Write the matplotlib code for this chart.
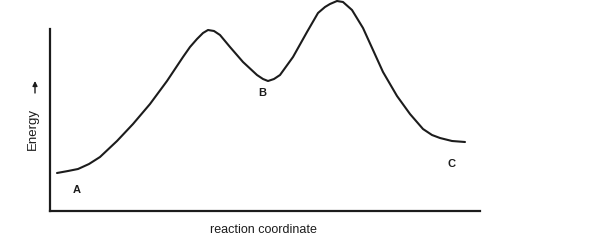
"""
Energy profile along the reaction coordinate (A -> B -> C)
"""

import matplotlib.pyplot as plt

# ============ style ============
plt.rcParams.update({
    'font.family': ['Liberation Sans', 'DejaVu Sans'],
    'axes.linewidth': 1.6,
})
ink = '#1c1c1c'

# ============ data ============
# reaction coordinate (arbitrary units) and energy (arbitrary units)
coord = [7, 18, 28, 39, 50, 67, 83, 100, 117, 133, 140, 147, 153, 158, 164,
         170, 180, 193, 207, 213, 218, 224, 230, 243, 257, 268, 275, 280,
         287, 293, 302, 313, 323, 333, 347, 360, 373, 382, 390, 402, 415]
energy = [38, 40, 42, 47, 54, 70, 87, 107, 130, 154, 164, 172, 178, 181, 180,
          176, 164, 149, 136, 132, 130, 132, 136, 154, 179, 198, 204, 207,
          210, 209, 201, 183, 161, 139, 115, 97, 82, 76, 73, 70, 69]

# state labels and where they sit
states = ['A', 'B', 'C']
state_x = [27, 212, 401]
state_y = [21, 118, 47]

x_max, y_max = 430, 211
y_axis_top = 182

fig = plt.figure(figsize=(5.93, 2.46), dpi=100)
ax = fig.add_axes([50 / 593, 35 / 246, 430 / 593, 211 / 246])

ax.plot(coord, energy, '-', color=ink, linewidth=1.5, solid_joinstyle='round',
        solid_capstyle='round', clip_on=False)

for s, sx, sy in zip(states, state_x, state_y):
    ax.text(sx, sy, s, fontsize=8, fontweight='bold', color=ink,
            ha='center', va='center')

ax.set_xlim(0, x_max)
ax.set_ylim(0, y_max)
ax.spines['top'].set_visible(False)
ax.spines['right'].set_visible(False)
ax.spines['left'].set_bounds(0, y_axis_top)
for sp in ('left', 'bottom'):
    ax.spines[sp].set_color(ink)
ax.set_xticks([])
ax.set_yticks([])

ax.set_xlabel('reaction coordinate', fontsize=9, color=ink)
ax.xaxis.set_label_coords(213 / 430, -13 / 211)

# y label with a small upward arrow above it
fig.text(33 / 593, 1 - 129 / 246, 'Energy', rotation=90, fontsize=9.5,
         color=ink, ha='center', va='center')
ax.annotate('', xy=(35 / 593, 1 - 81 / 246), xycoords='figure fraction',
            xytext=(35 / 593, 1 - 93 / 246), textcoords='figure fraction',
            arrowprops=dict(arrowstyle='-|>', color=ink, lw=1.0,
                            mutation_scale=7, shrinkA=0, shrinkB=0))

fig.savefig('out.png', dpi=100, facecolor='white')
